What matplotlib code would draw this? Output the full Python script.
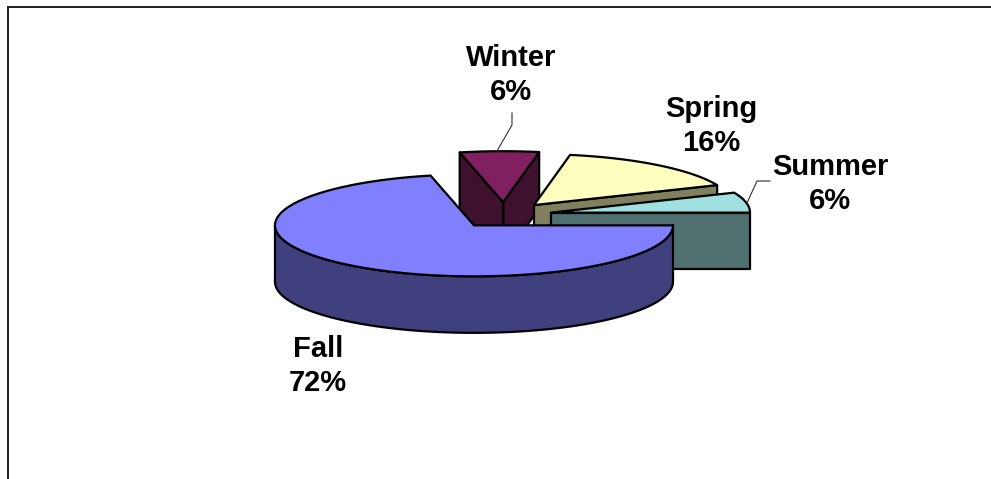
import numpy as np
import matplotlib
matplotlib.use("Agg")
import matplotlib.pyplot as plt
from matplotlib.patches import Polygon

plt.rcParams['font.family'] = ['Liberation Sans', 'DejaVu Sans']

# Data, in drawing order around the pie starting at 3 o'clock going counter-clockwise
categories = ["Summer", "Spring", "Winter", "Fall"]
shares = [6.4, 15.7, 6.4, 71.5]
top_colors = ["#A0E0E0", "#FFFFC0", "#802060", "#8080FF"]
side_colors = ["#507070", "#80805F", "#40102F", "#40407F"]
label_xy = {"Winter": (511, 75), "Spring": (711, 126), "Summer": (830, 184), "Fall": (318, 366)}

# 3-D pie projection (pixels)
CX, CY, RX, RY, H = 504, 215.2, 199, 51, 56.5
EX, EY = 48, 13
LW = 1.6

fig = plt.figure(figsize=(9.91, 4.79), dpi=100)
ax = fig.add_axes([0, 0, 1, 1])
ax.set_xlim(0, 991)
ax.set_ylim(479, 0)
ax.axis("off")

# chart frame: only the top and left borders fall inside the picture
ax.plot([8, 8, 991], [479, 7, 7], color="#202020", lw=1.4, solid_joinstyle="miter")

edges = np.concatenate([[0], np.cumsum(shares)]) / sum(shares) * 2 * np.pi
wedges = {}
for i, c in enumerate(categories):
    a0, a1 = edges[i], edges[i + 1]
    m = (a0 + a1) / 2
    wedges[c] = dict(a0=a0, a1=a1, ox=CX + EX * np.cos(m), oy=CY - EY * np.sin(m),
                     top=top_colors[i], side=side_colors[i])


def rim(w, a, b, n=120, dy=0):
    t = np.linspace(a, b, n)
    return np.column_stack([w["ox"] + RX * np.cos(t), w["oy"] - RY * np.sin(t) + dy])


def draw_poly(pts, color, z):
    ax.add_patch(Polygon(pts, closed=True, facecolor=color, edgecolor="black",
                         lw=LW, joinstyle="round", zorder=z))


z = 3
for c in ["Winter", "Spring", "Summer", "Fall"]:
    w = wedges[c]
    a0, a1 = w["a0"], w["a1"]
    O = np.array([w["ox"], w["oy"]])
    D = np.array([0, H])
    # radial faces turned to the viewer
    if np.sin(a0 - np.pi / 2) < 0:
        P = rim(w, a0, a0, 1)[0]
        draw_poly([O, P, P + D, O + D], w["side"], z)
    if np.sin(a1 + np.pi / 2) < 0:
        P = rim(w, a1, a1, 1)[0]
        draw_poly([O, P, P + D, O + D], w["side"], z)
    # outer wall: the front half of the rim
    lo, hi = max(a0, np.pi), min(a1, 2 * np.pi)
    if hi > lo:
        up = rim(w, lo, hi)
        draw_poly(np.vstack([up, (up + D)[::-1]]), w["side"], z)
    # top
    draw_poly(np.vstack([[O], rim(w, a0, a1)]), w["top"], z + 1)
    z += 2

# leader lines
ax.plot([512, 512, 497], [113, 125, 151], color="#303030", lw=0.8, zorder=20)
ax.plot([770, 757, 747], [181, 181, 203], color="#303030", lw=0.8, zorder=20)

# labels
for c, s in zip(categories, shares):
    x, y = label_xy[c]
    ax.text(x, y, f"{c}\n{s:.0f}%", ha="center", va="center", fontsize=21,
            fontweight="bold", color="black", linespacing=1.28, zorder=30)

fig.savefig("out.png", dpi=100, facecolor="white")
